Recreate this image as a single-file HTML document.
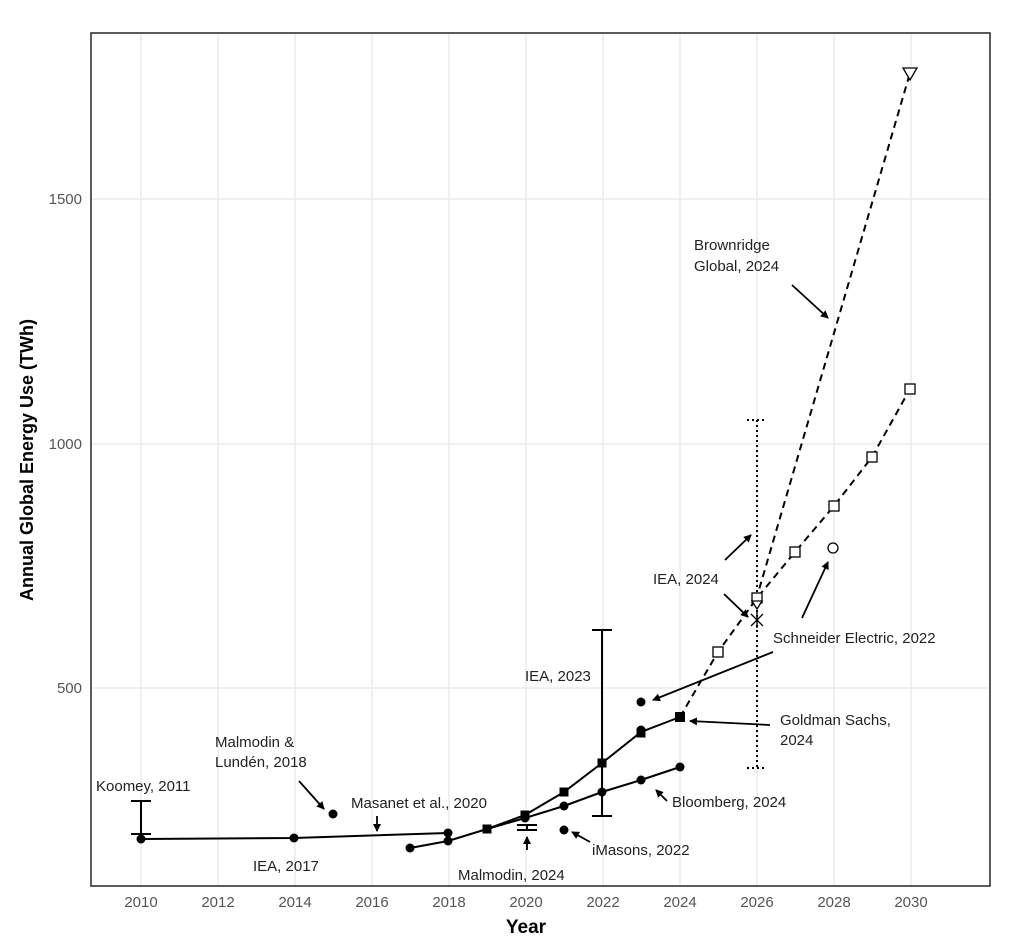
<!DOCTYPE html>
<html><head><meta charset="utf-8"><style>
html,body{margin:0;padding:0;background:#fff;}
svg text{font-family:"Liberation Sans",sans-serif;}
.a{font-size:15px;fill:#222;}
.t{font-size:15px;fill:#555;}
</style></head><body>
<svg width="1024" height="945" viewBox="0 0 1024 945" xmlns="http://www.w3.org/2000/svg">
<defs>
<marker id="ar" markerWidth="8" markerHeight="8" refX="7" refY="4" orient="auto" markerUnits="userSpaceOnUse"><path d="M0,0 L8,4 L0,8 Z" fill="#000"/></marker>
</defs>
<rect width="1024" height="945" fill="#fff"/>
<g stroke="#ebebeb" stroke-width="1.5">
<line x1="141" y1="33" x2="141" y2="886"/><line x1="218" y1="33" x2="218" y2="886"/>
<line x1="295" y1="33" x2="295" y2="886"/><line x1="372" y1="33" x2="372" y2="886"/>
<line x1="449" y1="33" x2="449" y2="886"/><line x1="526" y1="33" x2="526" y2="886"/>
<line x1="603" y1="33" x2="603" y2="886"/><line x1="680" y1="33" x2="680" y2="886"/>
<line x1="757" y1="33" x2="757" y2="886"/><line x1="834" y1="33" x2="834" y2="886"/>
<line x1="911" y1="33" x2="911" y2="886"/>
<line x1="91" y1="199" x2="990" y2="199"/><line x1="91" y1="444" x2="990" y2="444"/><line x1="91" y1="688" x2="990" y2="688"/>
</g>
<rect x="91" y="33" width="899" height="853" fill="none" stroke="#333" stroke-width="1.6"/>
<g class="t" text-anchor="middle">
<text x="141" y="907">2010</text><text x="218" y="907">2012</text><text x="295" y="907">2014</text>
<text x="372" y="907">2016</text><text x="449" y="907">2018</text><text x="526" y="907">2020</text>
<text x="603" y="907">2022</text><text x="680" y="907">2024</text><text x="757" y="907">2026</text>
<text x="834" y="907">2028</text><text x="911" y="907">2030</text>
</g>
<g class="t" text-anchor="end"><text x="82" y="204">1500</text><text x="82" y="449">1000</text><text x="82" y="693">500</text></g>
<text x="526" y="933" text-anchor="middle" font-weight="bold" font-size="19">Year</text>
<text transform="translate(33,460) rotate(-90)" text-anchor="middle" font-weight="bold" font-size="18">Annual Global Energy Use (TWh)</text>
<g stroke="#000" stroke-width="2" fill="none">
<polyline points="141,839 294,838 448,833"/>
<line x1="141" y1="801" x2="141" y2="834"/><line x1="131" y1="801" x2="151" y2="801"/><line x1="131" y1="834" x2="151" y2="834"/>
<polyline points="410,848 448,841 487,829 525,818 564,806 602,792 641,780 680,767"/>
<polyline points="487,829 525,815 564,792 602,763 641,732 680,717"/>
<line x1="602" y1="630" x2="602" y2="816"/><line x1="592" y1="630" x2="612" y2="630"/><line x1="592" y1="816" x2="612" y2="816"/>
<line x1="517" y1="825" x2="537" y2="825"/><line x1="517" y1="830" x2="537" y2="830"/>
<line x1="527" y1="825" x2="527" y2="830"/>
</g>
<g stroke="#000" stroke-width="2" fill="none" stroke-dasharray="7,5">
<polyline points="680,717 718,652 757,598 795,552 834,506 872,457 910,389"/>
<line x1="756" y1="600" x2="910" y2="73"/>
</g>
<g stroke="#000" stroke-width="2" fill="none" stroke-dasharray="2,3">
<line x1="757" y1="420" x2="757" y2="768"/>
<line x1="747" y1="420" x2="767" y2="420"/><line x1="747" y1="768" x2="767" y2="768"/>
</g>
<g fill="#000">
<circle cx="141" cy="839" r="4.5"/><circle cx="294" cy="838" r="4.5"/><circle cx="448" cy="833" r="4.5"/>
<circle cx="333" cy="814" r="4.5"/>
<circle cx="410" cy="848" r="4.5"/><circle cx="448" cy="841" r="4.5"/><circle cx="525" cy="818" r="4.5"/>
<circle cx="564" cy="806" r="4.5"/><circle cx="602" cy="792" r="4.5"/><circle cx="641" cy="780" r="4.5"/><circle cx="680" cy="767" r="4.5"/>
<circle cx="641" cy="730" r="4.5"/><circle cx="641" cy="702" r="4.5"/><circle cx="564" cy="830" r="4.5"/>
<rect x="482.5" y="824.5" width="9" height="9"/><rect x="520.5" y="810.5" width="9" height="9"/>
<rect x="559.5" y="787.5" width="9" height="9"/><rect x="597.5" y="758.5" width="9" height="9"/>
<rect x="636.5" y="728.5" width="9" height="9"/><rect x="675" y="712" width="10" height="10"/>
</g>
<g stroke="#000" stroke-width="1.3" fill="#fff">
<rect x="713" y="647" width="10" height="10"/><rect x="752" y="593" width="10" height="10"/>
<rect x="790" y="547" width="10" height="10"/><rect x="829" y="501" width="10" height="10"/>
<rect x="867" y="452" width="10" height="10"/><rect x="905" y="384" width="10" height="10"/>
<circle cx="833" cy="548" r="5"/>
<path d="M903,68 L917,68 L910,80 Z"/>
<path d="M752,601 L762,601 L757,609 Z"/>
<path d="M751,614 L763,626 M763,614 L751,626 M757,612 L757,628" fill="none"/>
</g>
<g stroke="#000" stroke-width="1.8" marker-end="url(#ar)">
<line x1="299" y1="781" x2="324" y2="809"/>
<line x1="377" y1="816" x2="377" y2="831"/>
<line x1="527" y1="850" x2="527" y2="837"/>
<line x1="590" y1="842" x2="572" y2="832"/>
<line x1="667" y1="801" x2="656" y2="790"/>
<line x1="770" y1="725" x2="690" y2="721"/>
<line x1="773" y1="652" x2="653" y2="700"/>
<line x1="802" y1="618" x2="828" y2="562"/>
<line x1="725" y1="560" x2="751" y2="535"/>
<line x1="724" y1="594" x2="748" y2="617"/>
<line x1="792" y1="285" x2="828" y2="318"/>
</g>
<g class="a">
<text x="96" y="791">Koomey, 2011</text>
<text x="215" y="747">Malmodin &amp;</text>
<text x="215" y="767">Lundén, 2018</text>
<text x="351" y="808">Masanet et al.,  2020</text>
<text x="253" y="871">IEA, 2017</text>
<text x="458" y="880">Malmodin, 2024</text>
<text x="592" y="855">iMasons, 2022</text>
<text x="672" y="807">Bloomberg, 2024</text>
<text x="525" y="681">IEA, 2023</text>
<text x="780" y="725">Goldman Sachs,</text>
<text x="780" y="745">2024</text>
<text x="773" y="643">Schneider Electric, 2022</text>
<text x="653" y="584">IEA, 2024</text>
<text x="694" y="250">Brownridge</text>
<text x="694" y="271">Global, 2024</text>
</g>
</svg>
</body></html>
